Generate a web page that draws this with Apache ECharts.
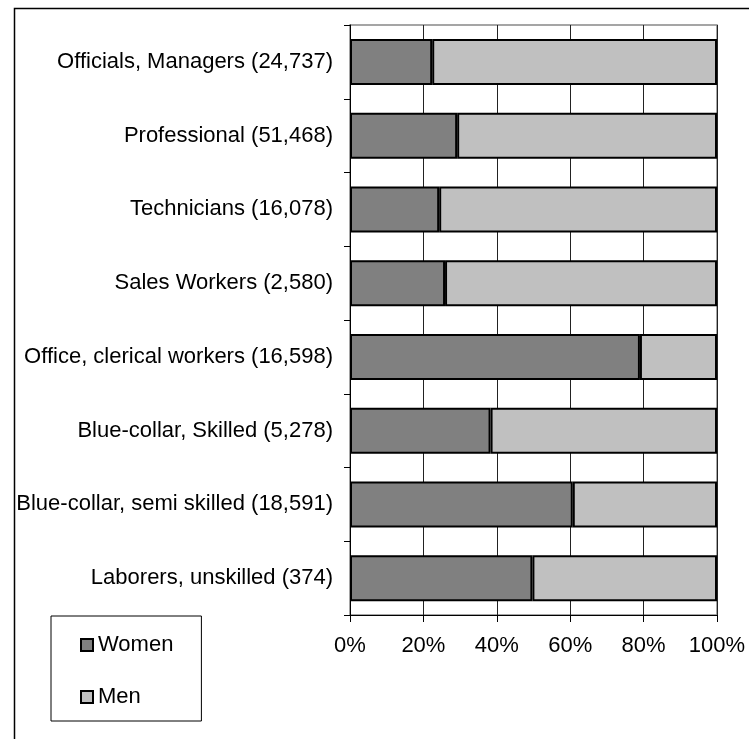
<!DOCTYPE html>
<html>
<head>
<meta charset="utf-8">
<script src="https://cdn.jsdelivr.net/npm/echarts@6/dist/echarts.min.js"></script>
<style>
html,body{margin:0;padding:0;background:#fff;}
#chart{width:749px;height:739px;}
</style>
</head>
<body>
<div id="chart"></div>
<script>
var categories = [
  'Officials, Managers (24,737)',
  'Professional (51,468)',
  'Technicians (16,078)',
  'Sales Workers (2,580)',
  'Office, clerical workers (16,598)',
  'Blue-collar, Skilled (5,278)',
  'Blue-collar, semi skilled (18,591)',
  'Laborers, unskilled (374)'
];
var women = [22.4, 29.2, 24.3, 25.9, 79.0, 38.3, 60.7, 49.7];
var men = [77.6, 70.8, 75.7, 74.1, 21.0, 61.7, 39.3, 50.3];
var xTicks = [0, 20, 40, 60, 80, 100];

var FONT = '"Liberation Sans", Arial, sans-serif';
var chart = echarts.init(document.getElementById('chart'));
chart.setOption({
  animation: false,
  textStyle: {fontFamily: FONT, color: '#000'},
  graphic: [{
    type: 'rect', left: 12, top: 6, z: 100,
    shape: {x: 0, y: 0, width: 800, height: 800},
    style: {fill: 'none', stroke: '#000', lineWidth: 1.5}
  }],
  grid: {
    left: 350, right: 32, top: 25, bottom: 124,
    show: true, borderColor: '#888', borderWidth: 1.5, backgroundColor: 'transparent'
  },
  legend: {
    orient: 'vertical', left: 51, top: 616,
    data: ['Women', 'Men'],
    itemWidth: 12, itemHeight: 12, itemGap: 30, itemTextGap: 9,
    padding: [18, 28, 13, 29],
    borderColor: '#000', borderWidth: 1, backgroundColor: '#fff',
    textStyle: {fontFamily: FONT, fontSize: 22, color: '#000'},
    itemStyle: {borderColor: '#000', borderWidth: 2},
    icon: 'rect'
  },
  xAxis: {
    type: 'value', min: xTicks[0], max: xTicks[xTicks.length - 1], interval: 20,
    axisLine: {show: true, lineStyle: {color: '#000', width: 1}},
    axisTick: {show: true, length: 7, lineStyle: {color: '#000'}},
    axisLabel: {formatter: '{value}%', fontSize: 22, color: '#000', fontFamily: FONT, margin: 20},
    splitLine: {show: true, lineStyle: {color: '#222', width: 1}}
  },
  yAxis: {
    type: 'category', data: categories, inverse: true,
    axisLine: {show: true, lineStyle: {color: '#000', width: 1}},
    axisTick: {show: true, length: 6, lineStyle: {color: '#000'}},
    axisLabel: {fontSize: 22, color: '#000', fontFamily: FONT, margin: 17},
    splitLine: {show: false}
  },
  series: [{
    name: 'Women', type: 'bar', stack: 'total', data: women, barWidth: 46,
    itemStyle: {color: '#808080', borderColor: '#000', borderWidth: 2}
  }, {
    name: 'Men', type: 'bar', stack: 'total', data: men, barWidth: 46,
    itemStyle: {color: '#c0c0c0', borderColor: '#000', borderWidth: 2}
  }]
});
</script>
</body>
</html>
